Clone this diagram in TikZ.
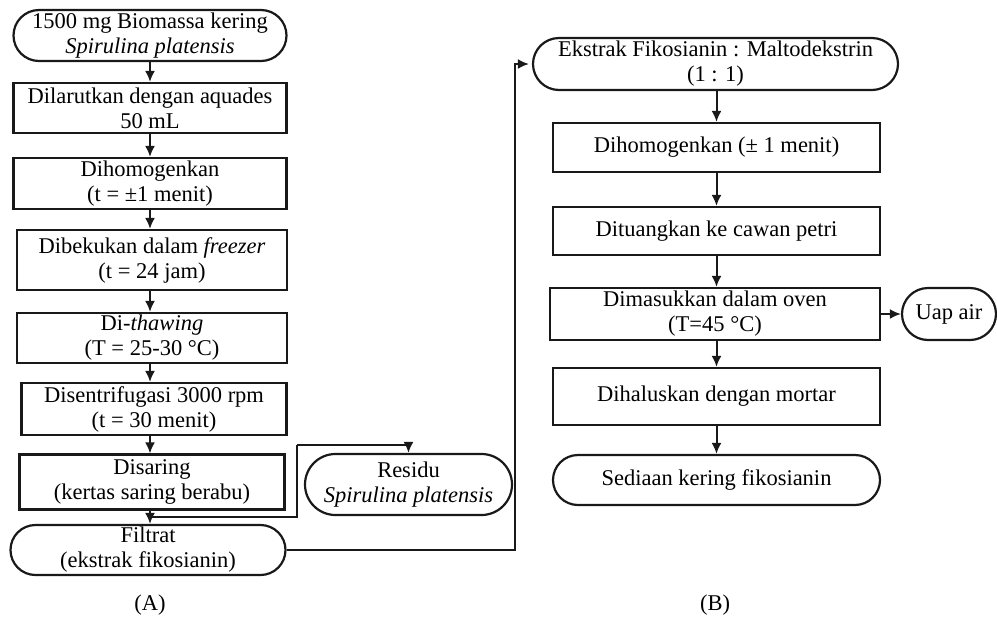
\documentclass[tikz,border=0pt]{standalone}
\usepackage{fontspec}
\setmainfont{Liberation Serif}
\usetikzlibrary{shapes.misc}
\usetikzlibrary{arrows.meta}

\begin{document}
\begin{tikzpicture}[x=1pt, y={(0,-1pt)},
		font=\fontsize{22.5}{25}\selectfont,
		stepbox/.style={draw=black!90, line width=2.2pt, rectangle, align=center, inner sep=0pt, minimum height=#1},
		stepbox/.default=50pt,
		endbox/.style={draw=black!90, line width=2.2pt, rounded rectangle, align=center, inner sep=0pt, minimum height=#1},
		endbox/.default=51pt,
		arr/.style={draw=black!90, line width=2pt, -{Latex[length=11pt,width=10pt]}},
		wire/.style={draw=black!90, line width=2pt}]
					\useasboundingbox (0,0) rectangle (997,630);
					% kolom A
					\node[endbox, minimum width=273pt] (bio) at (150,35.5) {1500 mg Biomassa kering\\\textit{Spirulina platensis}};
					\node[stepbox, minimum width=273pt] (larut) at (150,108) {Dilarutkan dengan aquades\\50 mL};
					\node[stepbox=51pt, minimum width=273pt] (homA) at (150,183.5) {Dihomogenkan\\(t = ±1 menit)};
					\node[stepbox=60pt, minimum width=270pt] (beku) at (152,260) {Dibekukan dalam \textit{freezer}\\(t = 24 jam)};
					\node[stepbox, minimum width=270pt] (thaw) at (152,338) {Di-\textit{thawing}\\(T = 25-30 °C)};
					\node[stepbox=52pt, minimum width=265pt] (sentri) at (154,409) {Disentrifugasi 3000 rpm\\(t = 30 menit)};
					\node[stepbox=55pt, minimum width=265pt] (saring) at (152,482) {Disaring\\(kertas saring berabu)};
					\node[endbox=50pt, minimum width=275pt] (filtrat) at (148,550) {Filtrat\\(ekstrak fikosianin)};
					\node[endbox=61pt, minimum width=207pt] (residu) at (408.5,484.5) {Residu\\\textit{Spirulina platensis}};
					% kolom B
					\node[endbox=52pt, minimum width=365pt] (ekstrak) at (715.5,64) {Ekstrak Fikosianin : Maltodekstrin\\(1 : 1)};
					\node[stepbox=49pt, minimum width=327pt] (homB) at (716.5,147.5) {Dihomogenkan (± 1 menit)};
					\node[stepbox=48pt, minimum width=327pt] (tuang) at (716.5,231) {Dituangkan ke cawan petri};
					\node[stepbox=52pt, minimum width=330pt] (oven) at (715,314) {Dimasukkan dalam oven\\(T=45 °C)};
					\node[stepbox=57pt, minimum width=327pt] (halus) at (716.5,396.5) {Dihaluskan dengan mortar};
					\node[endbox=50pt, minimum width=327pt] (sediaan) at (716.5,480) {Sediaan kering fikosianin};
					\node[endbox=52pt, minimum width=94pt] (uap) at (949,314) {Uap air};
					\node (labA) at (150,605) {(A)};
					\node (labB) at (715,605) {(B)};
					% panah A
					\draw[arr] (bio.south -| 150,0) -- (larut.north -| 150,0);
					\draw[arr] (larut.south -| 150,0) -- (homA.north -| 150,0);
					\draw[arr] (homA.south -| 150,0) -- (beku.north -| 150,0);
					\draw[arr] (beku.south -| 150,0) -- (thaw.north -| 150,0);
					\draw[arr] (thaw.south -| 150,0) -- (sentri.north -| 150,0);
					\draw[arr] (sentri.south -| 150,0) -- (saring.north -| 150,0);
					\draw[arr] (saring.south -| 150,0) -- (filtrat.north -| 150,0);
					\coordinate (cabang) at (150,517);
					\coordinate (tekuk) at (297,445);
					\draw[wire] (cabang) -| (tekuk);
					\draw[arr] (tekuk) -| (residu.north);
					\coordinate (naik) at (515,300);
					\draw[arr] (filtrat.east) -| (naik) |- ([xshift=-3pt]ekstrak.west);
					% panah B
					\draw[arr] (ekstrak.south -| homB.north) -- (homB.north);
					\draw[arr] (homB.south) -- (tuang.north);
					\draw[arr] (tuang.south) -- (oven.north -| tuang.south);
					\draw[arr] (oven.south -| halus.north) -- (halus.north);
					\draw[arr] (halus.south) -- (sediaan.north);
					\draw[arr] (oven.east) -- (uap.west);
				\end{tikzpicture}
\end{document}
